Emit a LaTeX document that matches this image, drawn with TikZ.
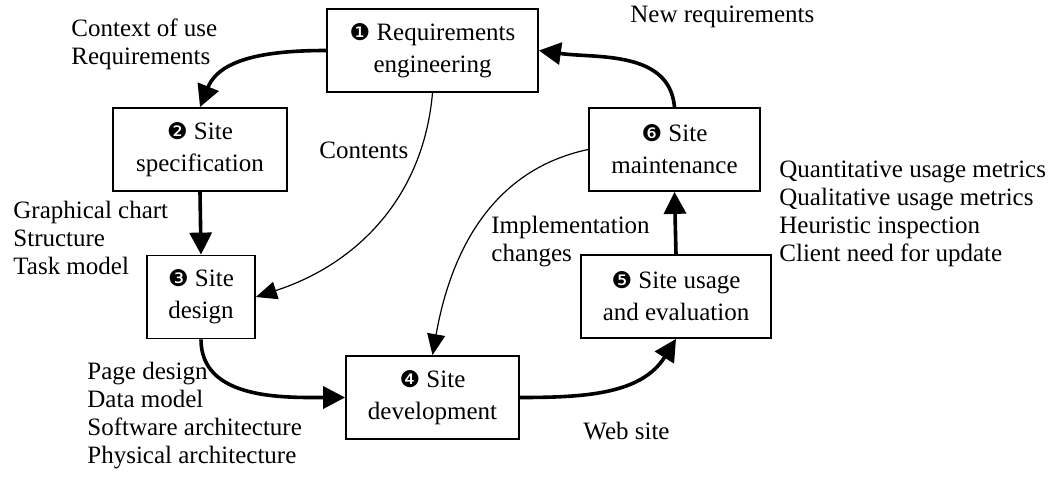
\documentclass[tikz,border=0pt]{standalone}
\usepackage{fontspec}
\setmainfont{Liberation Serif}
\newfontfamily\dingfont{DejaVu Sans}
\usetikzlibrary{arrows.meta}
\newcommand{\circnum}[1]{{\dingfont\fontsize{11.5}{11.5}\selectfont #1}}
\begin{document}
\begin{tikzpicture}[x=0.5pt, y=-0.5pt,
    caja/.style={draw, line width=0.9pt, align=center, inner xsep=2pt,
      minimum height=41.5pt, font=\fontsize{12.5}{16}\selectfont},
    texto/.style={anchor=west, inner sep=0pt, align=left,
      font=\fontsize{12.5}{14}\selectfont},
    gruesa/.style={line width=1.8pt, -{Triangle[length=11pt,width=11pt]}},
    fina/.style={line width=0.6pt, -{Triangle[length=10.5pt,width=9pt]}}]
    \useasboundingbox (0,0) rectangle (1055,482);

    % Cajas
    \node[caja, minimum width=105.5pt] (req) at (432.5,50.5) {\circnum{❶} Requirements\\engineering};
    \node[caja, minimum width=87pt] (spec) at (200,149.5) {\circnum{❷} Site\\specification};
    \node[caja, minimum width=54pt] (des) at (201,297) {\circnum{❸} Site\\design};
    \node[caja, minimum width=86.5pt] (dev) at (432.5,397.5) {\circnum{❹} Site\\development};
    \node[caja, minimum width=95pt] (eva) at (676,296.5) {\circnum{❺} Site usage\\and evaluation};
    \node[caja, minimum width=85.5pt] (mant) at (674.5,149.5) {\circnum{❻} Site\\maintenance};

    % Ciclo principal
    \draw[gruesa] (req.west) to[out=180, in=68] (spec.north);
    \draw[gruesa] (spec.south) -- (des.north);
    \draw[gruesa] (des.south) to[out=-90, in=180] (dev.west);
    \draw[gruesa] (dev.east) to[out=0, in=-122] (eva.south);
    \draw[gruesa] (eva.north) -- (mant.south);
    \draw[gruesa] (mant.north) to[out=95, in=-8] (req.east);

    % Flechas finas
    \draw[fina] (req.south) to[out=-95, in=18] (des.east);
    \draw[fina] (mant.west) to[out=192, in=80] (dev.north);

    % Textos
    \node[texto] (ctx) at (71,44) {Context of use\\Requirements};
    \node[texto] (cont) at (319,150) {Contents};
    \node[texto] (nuevo) at (630,17) {New requirements};
    \node[texto] (graf) at (13,238) {Graphical chart\\Structure\\Task model};
    \node[texto] (pag) at (87,416) {Page design\\Data model\\Software architecture\\Physical architecture};
    \node[texto] (impl) at (491,242) {Implementation\\changes};
    \node[texto] (web) at (583,431) {Web site};
    \node[texto] (metr) at (779,214) {Quantitative usage metrics\\Qualitative usage metrics\\Heuristic inspection\\Client need for update};
\end{tikzpicture}
\end{document}
